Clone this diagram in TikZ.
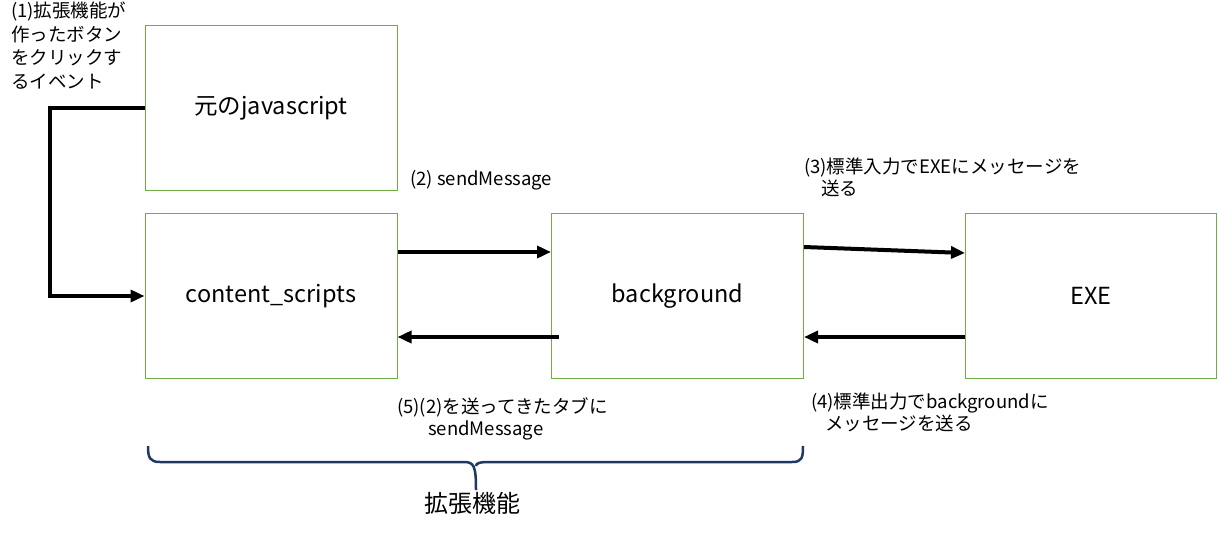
\documentclass[tikz,border=0pt]{standalone}
\usepackage{fontspec}
\setmainfont{Noto Sans CJK JP}
\usetikzlibrary{arrows.meta}
\definecolor{boxgreen}{HTML}{70AD47}
\definecolor{bracenavy}{HTML}{1F3864}
\begin{document}
\begin{tikzpicture}[x=1pt,y=-1pt,
  box/.style={draw=boxgreen, line width=1pt, minimum width=252pt, minimum height=165pt, inner sep=0pt, font=\fontsize{23.5}{27}\selectfont},
  conn/.style={line width=4pt, line join=miter, -{Triangle[length=14pt,width=12pt]}},
  lbl/.style={font=\fontsize{18.5}{22}\selectfont, anchor=north west, inner sep=0pt, align=left}]
\useasboundingbox (0,0) rectangle (1218,536);
\node[box] (js) at (271,108) {元のjavascript};
\node[box] (cs) at (271,296) {content\_scripts};
\node[box] (bg) at (677.5,296) {background};
\node[box, minimum width=251pt] (exe) at (1091,296) {EXE};
\coordinate (c1) at (50,108);
\coordinate (c2) at (50,296);
\draw[conn] (js.west) -- (c1) -- (c2) -- (cs.west);
\draw[conn] (cs.east |- 0,252) -- (bg.west |- 0,252);
\coordinate (b5) at ([xshift=8pt]bg.west |- 0,337);
\draw[conn] (b5) -- (cs.east |- 0,337);
\draw[conn] (bg.east |- 0,247) -- (exe.west |- 0,253);
\draw[conn] (exe.west |- 0,337) -- (bg.east |- 0,337);
\node[lbl, font=\fontsize{18.5}{23.5}\selectfont] (l1) at (11,2) {(1)拡張機能が\\作ったボタン\\をクリックす\\るイベント};
\node[lbl] (l2) at (410,170) {(2) sendMessage};
\node[lbl] (l3) at (804,158) {(3)標準入力でEXEにメッセージを\\\hspace*{17pt}送る};
\node[lbl] (l5) at (397,397) {(5)(2)を送ってきたタブに\\\hspace*{31pt}sendMessage};
\node[lbl] (l4) at (811,393) {(4)標準出力でbackgroundに\\\hspace*{14pt}メッセージを送る};
\draw[bracenavy, line width=2.5pt, line join=round]
  (148,446) .. controls (148,458) and (150,462) .. (160,462)
  -- (464,462) .. controls (474,462) and (476,466) .. (476,490)
  (476,466) .. controls (476,463) and (480,462) .. (490,462)
  -- (792,462) .. controls (802,462) and (803,458) .. (803,446);
\node[font=\fontsize{24}{28}\selectfont, inner sep=0pt] (ext) at (472,503) {拡張機能};
\end{tikzpicture}
\end{document}
